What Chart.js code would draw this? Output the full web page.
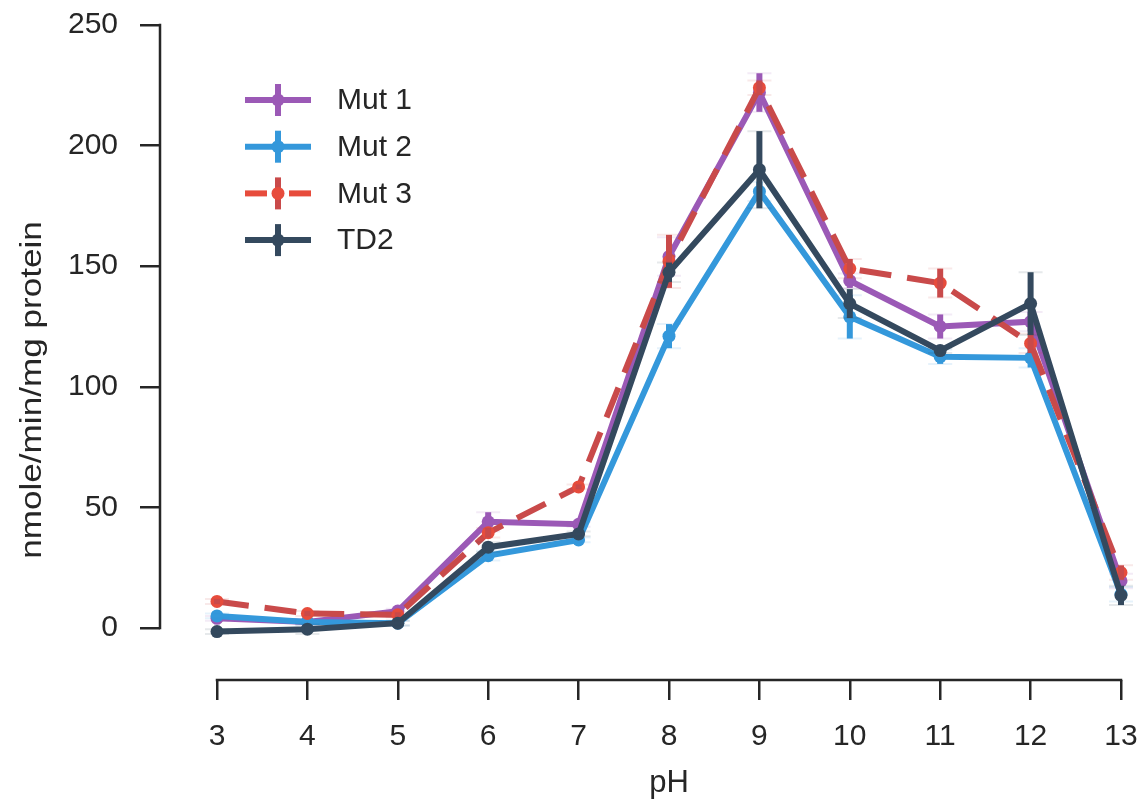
<!DOCTYPE html>
<html>
<head>
<meta charset="utf-8">
<script src="https://cdn.jsdelivr.net/npm/chart.js@4.4.1/dist/chart.umd.min.js"></script>
<style>
  body { margin: 0; background: #fff; }
  canvas { display: block; }
</style>
</head>
<body>
<canvas id="phChart" width="1146" height="804"></canvas>
<script>
'use strict'

// データ
const phValues = [3, 4, 5, 6, 7, 8, 9, 10, 11, 12, 13];
const yTicks = [0, 50, 100, 150, 200, 250];
const seriesNames = ['Mut 1', 'Mut 2', 'Mut 3', 'TD2'];
const mut1 = [4, 2.5, 7, 44, 43, 154, 222, 144, 125, 127, 19.5];
const mut1Err = [1, 1, 1, 4, 1, 8, 8, 3, 5, 4, 3];
const mut2 = [5, 2.5, 2, 30, 36.5, 121, 181, 129, 112.5, 112, 14];
const mut2Err = [1, 1, 1, 2, 1, 5, 4, 9, 3, 4, 3];
const mut3 = [11, 6, 5.5, 39.5, 58.5, 152, 224, 149, 143, 118, 23];
const mut3Err = [1, 1, 1, 2, 1, 11, 3, 4, 6, 4, 3];
const td2 = [-1.5, -0.5, 2, 33.5, 39, 147.5, 190, 134.5, 115, 134.5, 13.5];
const td2Err = [1, 2, 1, 2, 1, 4, 16, 6, 1, 13, 4];

const FONT = "'Liberation Sans', Arial, sans-serif";
const INK = '#262626';

const series = [
  {values: mut1, err: mut1Err, line: '#9b59b6', dot: '#9b59b6', dash: []},
  {values: mut2, err: mut2Err, line: '#3498db', dot: '#3498db', dash: []},
  {values: mut3, err: mut3Err, line: '#c94a4a', dot: '#e74c3c', dash: [32, 16]},
  {values: td2, err: td2Err, line: '#34495e', dot: '#34495e', dash: []},
];

// エラーバー
const errorBars = {
  id: 'errorBars',
  afterDatasetDraw(chart, args) {
    const s = series[args.index];
    const ctx = chart.ctx;
    const x = chart.scales.x, y = chart.scales.y;
    ctx.save();
    ctx.lineCap = 'butt';
    s.values.forEach((v, i) => {
      const px = x.getPixelForValue(phValues[i]);
      const top = y.getPixelForValue(v + s.err[i]);
      const bot = y.getPixelForValue(v - s.err[i]);
      ctx.strokeStyle = s.line;
      ctx.lineWidth = 6;
      ctx.beginPath();
      ctx.moveTo(px, top);
      ctx.lineTo(px, bot);
      ctx.stroke();
      ctx.globalAlpha = 0.12;
      ctx.lineWidth = 2;
      ctx.beginPath();
      ctx.moveTo(px - 12, top); ctx.lineTo(px + 12, top);
      ctx.moveTo(px - 12, bot); ctx.lineTo(px + 12, bot);
      ctx.stroke();
      ctx.globalAlpha = 1;
    });
    ctx.restore();
  }
};

// 軸線・タイトル・凡例
const decorations = {
  id: 'decorations',
  afterDraw(chart) {
    const ctx = chart.ctx;
    const x = chart.scales.x, y = chart.scales.y;
    const area = chart.chartArea;
    ctx.save();
    ctx.strokeStyle = INK;
    ctx.lineWidth = 2.5;
    ctx.lineCap = 'square';
    ctx.beginPath();
    ctx.moveTo(area.left, y.getPixelForValue(yTicks[0]));
    ctx.lineTo(area.left, y.getPixelForValue(yTicks[yTicks.length - 1]));
    ctx.moveTo(x.getPixelForValue(phValues[0]), area.bottom);
    ctx.lineTo(x.getPixelForValue(phValues[phValues.length - 1]), area.bottom);
    ctx.stroke();

    ctx.fillStyle = INK;
    ctx.font = `31px ${FONT}`;
    ctx.textAlign = 'center';
    ctx.textBaseline = 'middle';
    ctx.fillText('pH', (x.getPixelForValue(3) + x.getPixelForValue(13)) / 2, 783);
    ctx.translate(33, 390);
    ctx.rotate(-Math.PI / 2);
    ctx.scale(1.17, 1);
    ctx.font = `30px ${FONT}`;
    ctx.fillText('nmole/min/mg protein', 0, 0);
    ctx.restore();

    // 凡例
    ctx.save();
    series.forEach((s, i) => {
      const cy = 100 + i * 46.7;
      ctx.strokeStyle = s.dot;
      ctx.lineWidth = 6;
      ctx.setLineDash(s.dash.length ? [22, 22] : []);
      ctx.beginPath();
      ctx.moveTo(245, cy);
      ctx.lineTo(311, cy);
      ctx.stroke();
      ctx.setLineDash([]);
      ctx.strokeStyle = s.line;
      ctx.beginPath();
      ctx.moveTo(278, cy - 16);
      ctx.lineTo(278, cy + 16);
      ctx.stroke();
      ctx.fillStyle = s.dot;
      ctx.beginPath();
      ctx.arc(278, cy, 6.5, 0, Math.PI * 2);
      ctx.fill();
      ctx.fillStyle = INK;
      ctx.font = `30px ${FONT}`;
      ctx.textAlign = 'left';
      ctx.textBaseline = 'middle';
      ctx.fillText(seriesNames[i], 337, cy + 1);
    });
    ctx.restore();
  }
};

const ctx = document.getElementById('phChart');
new Chart(ctx, {
  type: 'line',
  data: {
    datasets: series.map((s, i) => ({
      label: seriesNames[i],
      data: s.values.map((v, j) => ({x: phValues[j], y: v})),
      borderColor: s.line,
      borderWidth: 6,
      borderDash: s.dash,
      pointRadius: 6.5,
      pointBackgroundColor: s.dot,
      pointBorderWidth: 0,
      tension: 0,
      order: series.length - i,
    }))
  },
  options: {
    responsive: false,
    devicePixelRatio: 1,
    animation: false,
    layout: {padding: {top: 25, right: 10, left: 0, bottom: 0}},
    plugins: {legend: {display: false}, tooltip: {enabled: false}},
    scales: {
      x: {
        type: 'linear',
        min: 2.3695,
        max: 13.166,
        afterBuildTicks: scale => { scale.ticks = phValues.map(v => ({value: v})); },
        afterFit: scale => { scale.height = 124; scale.paddingLeft = 0; scale.paddingRight = 0; },
        border: {display: false},
        grid: {drawOnChartArea: false, drawTicks: true, tickLength: 20, lineWidth: 2.5, color: INK},
        ticks: {color: INK, font: {size: 30, family: FONT}, padding: 19, maxRotation: 0, autoSkip: false},
      },
      y: {
        min: -21.56,
        max: 250,
        afterBuildTicks: scale => { scale.ticks = yTicks.map(v => ({value: v})); },
        afterFit: scale => { scale.width = 160; scale.paddingTop = 0; scale.paddingBottom = 0; },
        border: {display: false},
        grid: {drawOnChartArea: false, drawTicks: true, tickLength: 20, lineWidth: 2.5, color: INK},
        ticks: {color: INK, font: {size: 30, family: FONT}, padding: 22},
      }
    }
  },
  plugins: [errorBars, decorations]
});
</script>
</body>
</html>
